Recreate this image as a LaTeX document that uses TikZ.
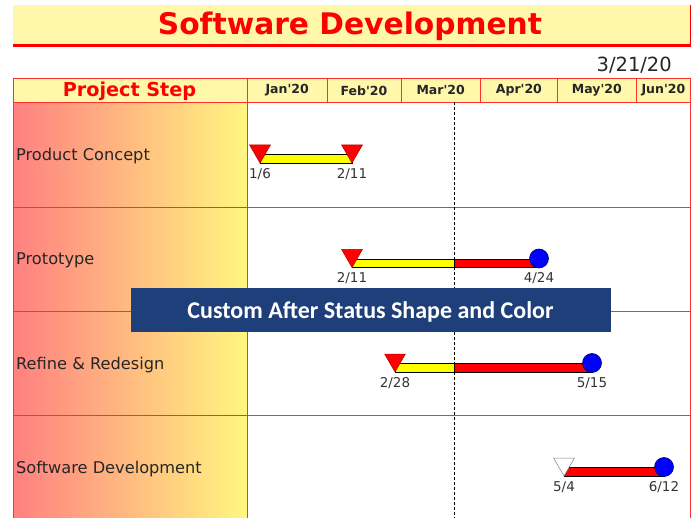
\documentclass[tikz,border=0pt]{standalone}
\usepackage{fontspec}
\setmainfont{DejaVu Sans}
\newfontfamily\plainsans{DejaVu Sans}
\newfontfamily\bannerfont{Carlito}
\usetikzlibrary{shapes.geometric}

\definecolor{paleyellow}{HTML}{FFF7AA}
\definecolor{gridred}{HTML}{FF3030}
\definecolor{leftpink}{HTML}{FF8080}
\definecolor{rightyellow}{HTML}{FFF780}
\definecolor{bannerblue}{HTML}{1F3F7B}
\definecolor{barred}{HTML}{FF0000}
\definecolor{baryellow}{HTML}{FFFF00}
\definecolor{dotblue}{HTML}{0000FF}

\tikzset{
  headcell/.style={draw=gridred, line width=0.8pt, fill=paleyellow, inner sep=0pt,
    font=\plainsans\bfseries\fontsize{12.5}{14}\selectfont, text=black!85},
  rowlabel/.style={anchor=base west, inner sep=0pt, font=\fontsize{16.2}{18}\selectfont, text=black!85},
  datelbl/.style={anchor=base, inner sep=0pt, font=\fontsize{13.5}{15}\selectfont, text=black!80},
  baryel/.style={fill=baryellow, draw=black, line width=0.6pt},
  barred/.style={fill=barred, draw=black, line width=0.6pt},
  startmark/.style={regular polygon, regular polygon sides=3, shape border rotate=180,
    minimum size=24pt, inner sep=0pt, outer sep=0pt, anchor=corner 1,
    fill=red, draw=red!70!black, line width=0.5pt},
  openmark/.style={startmark, fill=white, draw=black!50},
  endmark/.style={circle, minimum size=19pt, inner sep=0pt, fill=dotblue,
    draw=blue!40!black, line width=0.6pt},
}

\begin{document}
\begin{tikzpicture}[x=1pt, y=-1pt]
\useasboundingbox (0,0) rectangle (693,518);

% title banner with red shadow edge
\fill[paleyellow] (13,5) rectangle (690,45);
\draw[red, line width=2.6pt] (13,45.3) -- (691,45.3);
\draw[red, line width=1.8pt] (690.5,5) -- (690.5,46);
\node[anchor=base, inner sep=0pt, text=red, font=\bfseries\fontsize{29.7}{34}\selectfont] (title) at (350,35) {Software Development};

% status date
\node[anchor=base east, inner sep=0pt, font=\fontsize{19.5}{22}\selectfont, text=black!85] (today) at (672,71.7) {3/21/20};

% left column shading
\shade[left color=leftpink, right color=rightyellow] (13,102) rectangle (247,518);

% header row
\node[headcell, minimum width=234pt, minimum height=24pt, anchor=north west] (hstep) at (13,78) {};
\node[anchor=base, inner sep=0pt, text=red, font=\bfseries\fontsize{19.2}{22}\selectfont] (hsteptext) at (129.5,96.7) {Project Step};
\node[headcell, minimum width=79.5pt, minimum height=24pt, anchor=north west] (jan) at (247,78) {Jan'20};
\node[headcell, minimum width=74pt, minimum height=24pt, anchor=north west] (feb) at (326.5,78) {Feb'20};
\node[headcell, minimum width=79.5pt, minimum height=24pt, anchor=north west] (mar) at (400.5,78) {Mar'20};
\node[headcell, minimum width=77pt, minimum height=24pt, anchor=north west] (apr) at (480,78) {Apr'20};
\node[headcell, minimum width=79pt, minimum height=24pt, anchor=north west] (may) at (557,78) {May'20};
\node[headcell, minimum width=54pt, minimum height=24pt, anchor=north west] (jun) at (636,78) {Jun'20};

% grid lines
\draw[gridred, line width=0.8pt] (13,78) -- (13,518);
\draw[gridred, line width=0.8pt] (690,78) -- (690,518);
\draw[gridred, line width=0.8pt] (247,102) -- (247,518);
\foreach \yy in {207,311,415}
  \draw[gridred, line width=0.8pt] (13,\yy) -- (690,\yy);

% status date line
\draw[black, line width=0.6pt, dash pattern=on 3pt off 2pt] (454,102) -- (454,518);

% row labels
\node[rowlabel] (r1) at (16,160.7) {Product Concept};
\node[rowlabel] (r2) at (16,265) {Prototype};
\node[rowlabel] (r3) at (16,369.3) {Refine \& Redesign};
\node[rowlabel] (r4) at (16,473.8) {Software Development};

% bar anchor points (bottom edge of each bar)
\coordinate (s1) at (260,163);   \coordinate (e1) at (352,163);
\coordinate (s2) at (352,267.5); \coordinate (n2) at (454,267.5); \coordinate (e2) at (539,267.5);
\coordinate (s3) at (395,372);   \coordinate (n3) at (454,372);   \coordinate (e3) at (592,372);
\coordinate (s4) at (564,476);   \coordinate (e4) at (664,476);

% bars
\draw[baryel] (s1) rectangle ([yshift=8.5pt]e1);
\draw[baryel] (s2) rectangle ([yshift=8.5pt]n2);
\draw[barred] (n2) rectangle ([yshift=8.5pt]e2);
\draw[baryel] (s3) rectangle ([yshift=8.5pt]n3);
\draw[barred] (n3) rectangle ([yshift=8.5pt]e3);
\draw[barred] (s4) rectangle ([yshift=8.5pt]e4);

% start / end markers
\node[startmark] (m1a) at (s1) {};
\node[startmark] (m1b) at (e1) {};
\node[startmark] (m2a) at (s2) {};
\node[endmark] (m2b) at ([yshift=9pt]e2) {};
\node[startmark] (m3a) at (s3) {};
\node[endmark] (m3b) at ([yshift=9pt]e3) {};
\node[openmark] (m4a) at (s4) {};
\node[endmark] (m4b) at ([yshift=9pt]e4) {};

% date labels
\node[datelbl] (d1a) at ([yshift=-15.3pt]s1) {1/6};
\node[datelbl] (d1b) at ([yshift=-15.3pt]e1) {2/11};
\node[datelbl] (d2a) at ([yshift=-15.3pt]s2) {2/11};
\node[datelbl] (d2b) at ([yshift=-15.3pt]e2) {4/24};
\node[datelbl] (d3a) at ([yshift=-15.3pt]s3) {2/28};
\node[datelbl] (d3b) at ([yshift=-15.3pt]e3) {5/15};
\node[datelbl] (d4a) at ([yshift=-15.3pt]s4) {5/4};
\node[datelbl] (d4b) at ([yshift=-15.3pt]e4) {6/12};

% caption banner
\node[fill=bannerblue, minimum width=480pt, minimum height=44pt, inner sep=0pt] (banner) at (371,310) {};
\node[anchor=base, inner sep=0pt, text=white, font=\bannerfont\bfseries\fontsize{24}{27}\selectfont]
      (bannertext) at (370.5,319) {Custom After Status Shape and Color};
\end{tikzpicture}
\end{document}
